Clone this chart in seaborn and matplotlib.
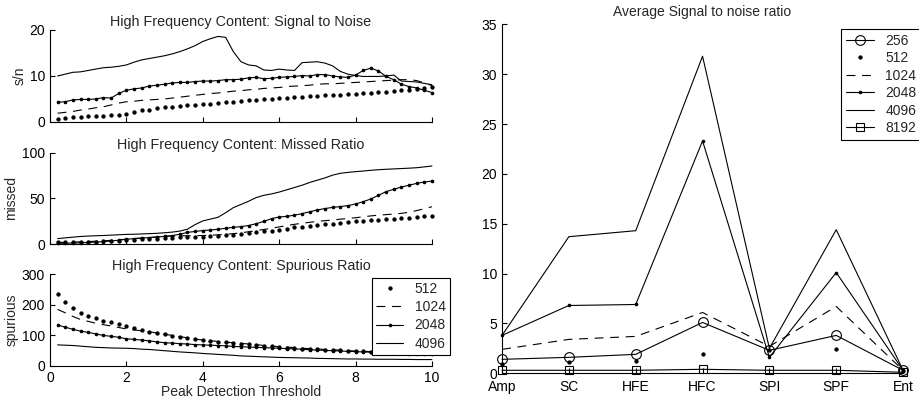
"""Peak detection comparison: HFC threshold sweeps and average signal to noise ratio."""

import matplotlib

matplotlib.use("Agg")
import matplotlib.pyplot as plt
import numpy as np
import seaborn as sns

# threshold sweep (x axis of the three left panels)
THRESHOLDS = np.round(np.arange(1, 51) * 0.2, 1)
SWEEP_SIZES = ["512", "1024", "2048", "4096"]

SN_512 = [0.7, 0.9, 1.0, 1.1, 1.2, 1.3, 1.4, 1.5, 1.6, 1.8, 2.2, 2.5, 2.7, 3.0, 3.2, 3.3, 3.5,
          3.6, 3.8, 3.9, 4.0, 4.1, 4.3, 4.4, 4.6, 4.7, 4.8, 5.0, 5.1, 5.2, 5.3, 5.4, 5.5, 5.6,
          5.7, 5.8, 5.8, 5.9, 6.0, 6.1, 6.2, 6.3, 6.5, 6.6, 6.8, 6.9, 7.0, 7.1, 7.4, 7.7]
SN_1024 = [1.9, 2.1, 2.3, 2.6, 2.8, 3.1, 3.3, 3.7, 4.1, 4.4, 4.5, 4.7, 4.8, 4.9, 5.0, 5.2, 5.4,
           5.6, 5.8, 6.0, 6.2, 6.3, 6.5, 6.7, 6.8, 7.0, 7.1, 7.3, 7.4, 7.5, 7.7, 7.8, 7.9, 8.0,
           8.2, 8.3, 8.3, 8.4, 8.5, 8.6, 8.7, 8.8, 8.9, 9.0, 9.1, 9.2, 9.2, 9.0, 8.5, 7.9]
SN_2048 = [4.3, 4.4, 4.8, 4.9, 4.9, 5.0, 5.3, 5.2, 6.2, 6.9, 7.2, 7.4, 7.8, 8.0, 8.2, 8.5, 8.6,
           8.6, 8.8, 8.9, 8.9, 9.0, 9.2, 9.2, 9.3, 9.6, 9.7, 9.4, 9.5, 9.7, 9.8, 9.9, 10.1, 10.0,
           10.3, 10.3, 10.0, 9.8, 9.7, 10.2, 11.2, 11.7, 11.1, 9.9, 9.2, 8.2, 7.7, 7.4, 6.9, 6.4]
SN_4096 = [10.0, 10.4, 10.8, 10.9, 11.2, 11.5, 11.8, 11.9, 12.1, 12.4, 13.0, 13.5, 13.8, 14.1,
           14.4, 14.8, 15.3, 15.9, 16.6, 17.5, 18.1, 18.6, 18.4, 15.3, 13.1, 12.4, 12.2, 11.3,
           11.2, 11.5, 11.3, 11.2, 12.9, 13.0, 13.1, 12.8, 12.2, 11.0, 10.4, 10.1, 9.9, 9.9,
           9.9, 10.0, 10.2, 8.9, 8.8, 8.7, 8.4, 8.1]

MISSED_512 = [2.0, 2.1, 2.3, 2.5, 2.8, 3.0, 3.3, 3.6, 4.0, 4.4, 4.8, 5.3, 5.8, 6.3, 6.8, 7.2,
              7.5, 7.8, 8.0, 8.3, 8.7, 9.1, 9.6, 10.2, 11.0, 12.0, 13.0, 14.0, 15.0, 16.0, 17.2,
              18.4, 19.4, 20.2, 21.0, 21.8, 22.6, 23.4, 24.2, 25.0, 25.7, 26.4, 27.0, 27.5,
              28.0, 28.6, 29.2, 29.8, 30.4, 31.0]
MISSED_1024 = [2.0, 2.2, 2.4, 2.7, 3.0, 3.4, 3.8, 4.3, 4.9, 5.6, 6.2, 6.8, 7.4, 8.0, 8.6, 9.0,
               9.2, 9.3, 9.4, 9.6, 9.9, 10.3, 10.9, 11.6, 12.5, 13.7, 14.9, 16.2, 17.5, 19.0,
               20.4, 21.8, 23.0, 24.0, 25.0, 25.8, 26.6, 27.4, 28.2, 29.0, 30.0, 31.0, 31.8,
               32.4, 33.0, 33.8, 35.0, 36.8, 38.8, 41.0]
MISSED_2048 = [1.0, 1.2, 1.4, 1.6, 2.0, 2.4, 2.9, 3.6, 4.5, 5.5, 6.2, 6.8, 7.3, 7.9, 8.6, 9.5,
               11.0, 13.0, 14.0, 15.0, 15.6, 16.4, 17.5, 18.5, 19.3, 20.5, 22.5, 25.0, 28.0,
               29.8, 30.5, 31.8, 33.5, 35.5, 37.5, 39.0, 40.3, 41.2, 42.2, 44.0, 46.5, 49.5,
               53.5, 57.5, 60.0, 62.5, 64.5, 66.5, 68.0, 69.0]
MISSED_4096 = [6.2, 7.0, 7.8, 8.5, 9.0, 9.3, 9.6, 10.0, 10.4, 10.8, 11.0, 11.3, 11.6, 12.0,
               12.6, 13.3, 14.4, 16.5, 21.5, 25.5, 27.5, 29.5, 34.5, 40.0, 43.5, 47.0, 51.0,
               53.5, 55.0, 57.0, 59.5, 62.0, 64.5, 67.5, 70.0, 72.5, 75.5, 77.5, 78.5, 79.3,
               80.0, 80.8, 81.4, 81.9, 82.3, 82.7, 83.1, 83.6, 84.5, 85.5]

SPUR_512 = [234, 208, 189, 174, 165, 156, 148, 143, 137, 131, 125, 118, 112, 109, 104, 99, 95,
            91, 88, 85, 83, 80, 78, 76, 73, 71, 69, 67, 65, 62, 60, 58, 57, 55, 54, 53, 52, 51,
            50, 49, 48, 47, 46, 45, 44, 43, 42, 42, 41, 41]
SPUR_1024 = [185, 174, 162, 152, 146, 140, 135, 131, 126, 121, 118, 115, 112, 108, 104, 100,
             96, 92, 88, 85, 83, 80, 78, 76, 74, 72, 70, 67, 65, 63, 62, 60, 58, 57, 56, 54, 53,
             52, 50, 49, 48, 47, 46, 45, 44, 43, 42, 41, 40, 39]
SPUR_2048 = [134, 127, 120, 114, 110, 105, 100, 97, 94, 89, 87, 85, 82, 79, 76, 75, 73, 72,
             70, 69, 68, 67, 66, 64, 63, 62, 61, 60, 59, 58, 57, 56, 55, 53, 52, 51, 50, 49, 48,
             47, 46, 45, 44, 43, 42, 41, 40, 40, 39, 39]
SPUR_4096 = [69, 68, 67, 65, 63, 61, 60, 59, 58.5, 58, 57, 55, 54, 52, 50, 48, 46, 44.5, 43,
             41, 39.5, 38, 36.5, 35, 33, 32, 31, 30, 29, 28, 27.5, 27, 26.5, 26, 25, 24.5, 24,
             23.5, 23, 23, 22.5, 22.5, 22, 22, 22, 21.5, 21.5, 21, 21, 21]

# average signal to noise per detection function
FUNCTIONS = ["Amp", "SC", "HFE", "HFC", "SPI", "SPF", "Ent"]
AVG_SIZES = ["256", "512", "1024", "2048", "4096", "8192"]
AVG_256 = [1.4, 1.6, 1.9, 5.1, 2.3, 3.8, 0.3]
AVG_512 = [0.9, 1.1, 1.2, 1.9, 2.3, 2.4, 0.2]
AVG_1024 = [2.4, 3.4, 3.7, 6.1, 2.7, 6.7, 0.3]
AVG_2048 = [3.8, 6.8, 6.9, 23.3, 1.6, 10.1, 0.3]
AVG_4096 = [3.8, 13.7, 14.3, 31.8, 2.5, 14.4, 0.3]
AVG_8192 = [0.3, 0.3, 0.3, 0.4, 0.3, 0.3, 0.1]

STYLES = {
    "256": dict(marker="o", markersize=7, markerfacecolor="none"),
    "512": dict(linestyle="none", marker="o", markersize=2.3),
    "1024": dict(linestyle=(0, (8, 6))),
    "2048": dict(marker="o", markersize=1.8),
    "4096": dict(),
    "8192": dict(marker="s", markersize=6, markerfacecolor="none"),
}

sns.set_theme(style="white")
plt.rcParams["font.family"] = ["Liberation Sans", "DejaVu Sans"]
plt.rcParams["axes.linewidth"] = 0.8
plt.rcParams["axes.edgecolor"] = "black"
plt.rcParams["xtick.direction"] = "in"
plt.rcParams["ytick.direction"] = "in"


def draw(ax, x, series, sizes):
    for size, values in zip(sizes, series):
        sns.lineplot(x=x, y=values, ax=ax, color="black", lw=0.8, estimator=None,
                     markeredgecolor="black", markeredgewidth=0.8, label=size,
                     clip_on=False, **STYLES[size])


def style_axes(ax):
    sns.despine(ax=ax)
    ax.tick_params(axis="both", labelsize=10, length=3.5, width=0.8, color="black",
                   labelcolor="black", bottom=True, left=True)


fig = plt.figure(figsize=(9.2, 4.01), dpi=100)

panels = [
    ([0.0543, 0.6958, 0.4152, 0.2294], [SN_512, SN_1024, SN_2048, SN_4096], (0, 20), [0, 10, 20],
     "s/n", "High Frequency Content: Signal to Noise", -0.060),
    ([0.0543, 0.3908, 0.4152, 0.2284], [MISSED_512, MISSED_1024, MISSED_2048, MISSED_4096],
     (0, 100), [0, 50, 100], "missed", "High Frequency Content: Missed Ratio", -0.084),
    ([0.0543, 0.0873, 0.4152, 0.2287], [SPUR_512, SPUR_1024, SPUR_2048, SPUR_4096], (0, 300),
     [0, 100, 200, 300], "spurious", "High Frequency Content: Spurious Ratio", -0.082),
]

for i, (rect, series, ylim, yticks, ylabel, title, label_x) in enumerate(panels):
    ax = fig.add_axes(rect)
    draw(ax, THRESHOLDS, series, SWEEP_SIZES)
    ax.set_xlim(0, 10)
    ax.set_ylim(*ylim)
    ax.set_xticks([0, 2, 4, 6, 8, 10])
    ax.set_yticks(yticks)
    ax.set_title(title, fontsize=10.4, pad=3)
    ax.set_ylabel(ylabel, fontsize=10)
    ax.yaxis.set_label_coords(label_x, 0.5)
    style_axes(ax)
    if i < 2:
        ax.set_xticklabels([])
        ax.get_legend().remove()
    else:
        ax.set_xlabel("Peak Detection Threshold", fontsize=10, labelpad=0)
        leg = ax.legend(loc="upper right", bbox_to_anchor=(1.047, 0.96), borderaxespad=0,
                        fontsize=10, handlelength=2.0, labelspacing=0.3, fancybox=False,
                        framealpha=1, edgecolor="black", borderpad=0.3)
        leg.get_frame().set_linewidth(0.8)

ax = fig.add_axes([0.5457, 0.0691, 0.4359, 0.8703])
draw(ax, FUNCTIONS, [AVG_256, AVG_512, AVG_1024, AVG_2048, AVG_4096, AVG_8192], AVG_SIZES)
ax.set_xlim(0, 6)
ax.set_ylim(0, 35)
ax.set_yticks(range(0, 36, 5))
ax.set_title("Average Signal to noise ratio", fontsize=10, pad=6)
ax.set_xlabel("")
style_axes(ax)
ax.tick_params(axis="x", pad=5)
leg = ax.legend(loc="upper right", bbox_to_anchor=(1.045, 0.987), borderaxespad=0, fontsize=10,
                handlelength=2.0, labelspacing=0.25, fancybox=False, framealpha=1,
                edgecolor="black", borderpad=0.35)
leg.get_frame().set_linewidth(0.8)

fig.savefig("out.png", dpi=100)
